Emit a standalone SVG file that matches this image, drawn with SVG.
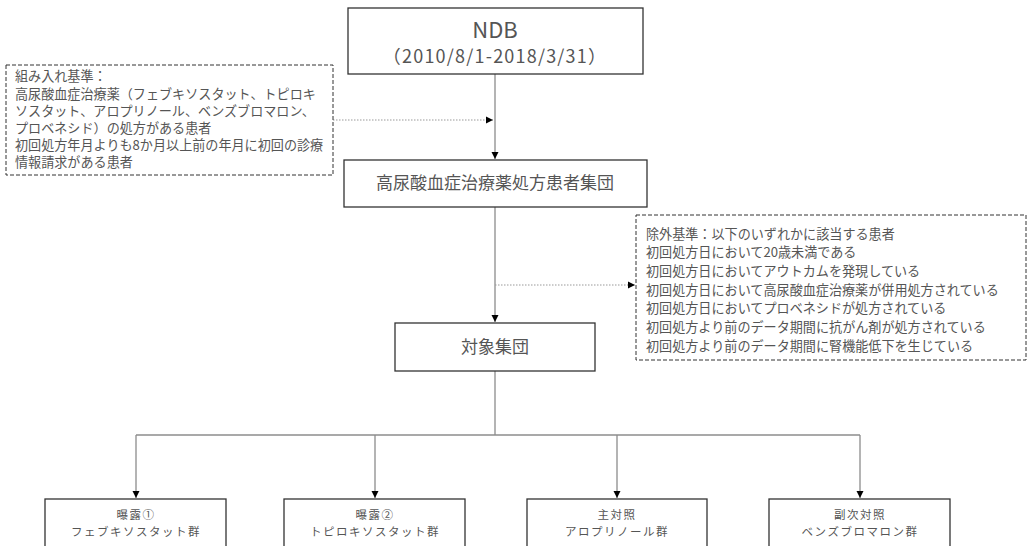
<svg xmlns="http://www.w3.org/2000/svg" width="1028" height="546" viewBox="0 0 1028 546">
<defs>
<marker id="arr" markerWidth="8" markerHeight="8" refX="7" refY="4" orient="auto" markerUnits="userSpaceOnUse">
<path d="M0,0.5 L7,4 L0,7.5 Z" fill="#000"/>
</marker>
<style>
.box{fill:#fff;stroke:#333;stroke-width:1.3}
.dbox{fill:#fff;stroke:#333;stroke-width:1;stroke-dasharray:4,2}
.ln{fill:none;stroke:#8c8c8c;stroke-width:1.3}
.dl{fill:none;stroke:#999;stroke-width:1;stroke-dasharray:1.5,1.5}
text{font-family:"Noto Sans CJK JP","Noto Sans",sans-serif;fill:#555}
.t13{font-size:13.1px}
.b{font-size:11.5px;letter-spacing:1.5px}
.c{text-anchor:middle}
</style>
</defs>
<rect width="1028" height="546" fill="#fff"/>
<g id="connectors">
<line class="ln" x1="495" y1="74" x2="495" y2="159" marker-end="url(#arr)"/>
<line class="dl" x1="333" y1="120" x2="493" y2="120" marker-end="url(#arr)"/>
<line class="ln" x1="495" y1="207" x2="495" y2="322" marker-end="url(#arr)"/>
<line class="dl" x1="495" y1="285" x2="635" y2="285" marker-end="url(#arr)"/>
<line class="ln" x1="495" y1="371" x2="495" y2="435"/>
<line class="ln" x1="136" y1="435" x2="860" y2="435"/>
<line class="ln" x1="136" y1="435" x2="136" y2="498" marker-end="url(#arr)"/>
<line class="ln" x1="375" y1="435" x2="375" y2="498" marker-end="url(#arr)"/>
<line class="ln" x1="617" y1="435" x2="617" y2="498" marker-end="url(#arr)"/>
<line class="ln" x1="860" y1="435" x2="860" y2="498" marker-end="url(#arr)"/>
</g>
<g id="ndb">
<rect class="box" x="348" y="8" width="295" height="66"/>
<text class="c" x="495" y="38" font-size="22">NDB</text>
<text class="c" x="495" y="63" font-size="18" letter-spacing="1.2">（2010/8/1-2018/3/31）</text>
</g>
<g id="inclusion">
<rect class="dbox" x="6" y="65" width="327" height="110"/>
<text class="t13" x="15" y="81">組み入れ基準：</text>
<text class="t13" x="15" y="99">高尿酸血症治療薬（フェブキソスタット、トピロキ</text>
<text class="t13" x="15" y="116">ソスタット、アロプリノール、ベンズブロマロン、</text>
<text class="t13" x="15" y="133">プロベネシド）の処方がある患者</text>
<text class="t13" x="15" y="150">初回処方年月よりも8か月以上前の年月に初回の診療</text>
<text class="t13" x="15" y="167">情報請求がある患者</text>
</g>
<g id="patients">
<rect class="box" x="344" y="160" width="303" height="47"/>
<text class="c" x="495" y="189" font-size="17">高尿酸血症治療薬処方患者集団</text>
</g>
<g id="exclusion">
<rect class="dbox" x="636" y="215" width="390" height="145"/>
<text class="t13" x="646" y="239">除外基準：以下のいずれかに該当する患者</text>
<text class="t13" x="646" y="257">初回処方日において20歳未満である</text>
<text class="t13" x="646" y="276">初回処方日においてアウトカムを発現している</text>
<text class="t13" x="646" y="295">初回処方日において高尿酸血症治療薬が併用処方されている</text>
<text class="t13" x="646" y="313">初回処方日においてプロベネシドが処方されている</text>
<text class="t13" x="646" y="332">初回処方より前のデータ期間に抗がん剤が処方されている</text>
<text class="t13" x="646" y="351">初回処方より前のデータ期間に腎機能低下を生じている</text>
</g>
<g id="target">
<rect class="box" x="395" y="323" width="200" height="48"/>
<text class="c" x="495" y="353" font-size="17">対象集団</text>
</g>
<g id="exp1">
<rect class="box" x="45" y="499" width="181" height="60"/>
<text class="c b" x="136" y="519">曝露①</text>
<text class="c b" x="136" y="536">フェブキソスタット群</text>
</g>
<g id="exp2">
<rect class="box" x="284" y="499" width="181" height="60"/>
<text class="c b" x="375" y="519">曝露②</text>
<text class="c b" x="375" y="536">トピロキソスタット群</text>
</g>
<g id="ctrl1">
<rect class="box" x="527" y="499" width="180" height="60"/>
<text class="c b" x="617" y="519">主対照</text>
<text class="c b" x="617" y="536">アロプリノール群</text>
</g>
<g id="ctrl2">
<rect class="box" x="769" y="499" width="181" height="60"/>
<text class="c b" x="860" y="519">副次対照</text>
<text class="c b" x="860" y="536">ベンズブロマロン群</text>
</g>
</svg>
